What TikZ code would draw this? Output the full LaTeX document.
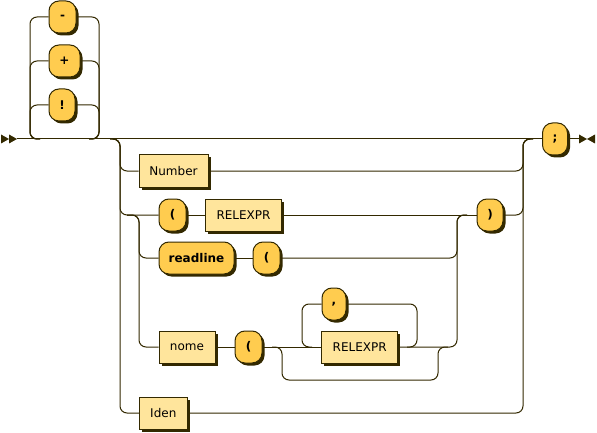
\documentclass[tikz,border=0pt]{standalone}
\usepackage{fontspec}
\setmainfont{DejaVu Sans}
\usetikzlibrary{shadows}
\definecolor{rrline}{HTML}{332900}
\definecolor{rrterm}{HTML}{FFCC4F}
\definecolor{rrnonterm}{HTML}{FFE59C}
\tikzset{
  rail/.style={draw=rrline, line width=1pt, rounded corners=7pt},
  boxshadow/.style={general shadow={fill=rrline, shadow xshift=2.5pt, shadow yshift=-2.5pt}},
  term/.style={draw=rrline, fill=rrterm, line width=1pt, rounded corners=10pt,
    minimum height=32pt, inner sep=0pt, text=black,
    font=\fontsize{12}{14}\selectfont\bfseries, boxshadow},
  nonterm/.style={draw=rrline, fill=rrnonterm, line width=1pt,
    minimum height=32pt, inner sep=0pt, text=black,
    font=\fontsize{12}{14}\selectfont, boxshadow},
  tip/.style={fill=rrline}
}
\begin{document}
\begin{tikzpicture}[x=1pt,y=-1pt]
\fill[white] (0,0) rectangle (597,433);
\useasboundingbox (0,0) rectangle (597,433);

% nodes
\node[term, minimum width=27pt] (minus) at (62.5,17) {-};
\node[term, minimum width=31pt] (plus) at (64.5,61) {+};
\node[term, minimum width=26pt] (excl) at (62,105) {!};
\node[term, minimum width=25pt] (semi) at (555,139) {;};
\node[nonterm, minimum width=69pt] (number) at (173.5,171) {Number};
\node[term, minimum width=27pt] (lp1) at (172.5,215) {(};
\node[nonterm, minimum width=76pt] (relexpr1) at (243.5,215) {RELEXPR};
\node[term, minimum width=26pt] (rp) at (490,215) {)};
\node[term, minimum width=75pt] (readline) at (196.5,258) {readline};
\node[term, minimum width=27pt] (lp2) at (266.5,258) {(};
\node[term, minimum width=24pt] (comma) at (334,304) {,};
\node[nonterm, minimum width=56pt] (nome) at (187,347) {nome};
\node[term, minimum width=27pt] (lpn) at (248.5,347) {(};
\node[nonterm, minimum width=76pt] (relexpr2) at (359.7,347) {RELEXPR};
\node[nonterm, minimum width=48pt] (iden) at (163.3,413) {Iden};

% start / end
\coordinate (start) at (17,139);
\coordinate (finish) at (579,139);
\fill[tip] (1,134.5) -- (9,139) -- (1,143.5) -- cycle;
\fill[tip] (9,134.5) -- (17,139) -- (9,143.5) -- cycle;
\fill[tip] (579,134.5) -- (587,139) -- (579,143.5) -- cycle;
\fill[tip] (595,134.5) -- (587,139) -- (595,143.5) -- cycle;
\draw[rail] (start) -- (semi.west);
\draw[rail] (semi.east) -- (finish);

% optional prefix choice
\coordinate (tcL) at (30,139);
\coordinate (tcR) at (99,139);
\draw[rail] (minus.west) -| (tcL) -- ([xshift=10pt]tcL);
\draw[rail] (plus.west) -| (tcL) -- ([xshift=10pt]tcL);
\draw[rail] (excl.west) -| (tcL) -- ([xshift=10pt]tcL);
\draw[rail] (minus.east) -| (tcR) -- ([xshift=-10pt]tcR);
\draw[rail] (plus.east) -| (tcR) -- ([xshift=-10pt]tcR);
\draw[rail] (excl.east) -| (tcR) -- ([xshift=-10pt]tcR);

% outer choice
\coordinate (ocL) at (120,139);
\coordinate (ocR) at (523,139);
\draw[rail] ([xshift=-10pt]ocL) -- (ocL) |- (number.west);
\draw[rail] ([xshift=-10pt]ocL) -- (ocL) |- (lp1.west);
\draw[rail] ([xshift=-10pt]ocL) -- (ocL) |- (iden.west);
\draw[rail] (number.east) -| (ocR) -- ([xshift=10pt]ocR);
\draw[rail] (rp.east) -| (ocR) -- ([xshift=10pt]ocR);
\draw[rail] (iden.east) -| (ocR) -- ([xshift=10pt]ocR);

% inner choice
\coordinate (icL) at (139,215);
\coordinate (icR) at (457,215);
\draw[rail] ([xshift=-12pt]icL) -- (icL) |- (readline.west);
\draw[rail] ([xshift=-12pt]icL) -- (icL) |- (nome.west);
\draw[rail] (lp1.east) -- (relexpr1.west);
\draw[rail] (relexpr1.east) -- (rp.west);
\draw[rail] (readline.east) -- (lp2.west);
\draw[rail] (lp2.east) -| (icR) -- ([xshift=10pt]icR);
\draw[rail] (nome.east) -- (lpn.west);
\draw[rail] (lpn.east) -- (relexpr2.west);
\draw[rail] (relexpr2.east) -| (icR) -- ([xshift=10pt]icR);

% repetition loop
\coordinate (lpL) at (302,347);
\coordinate (lpR) at (417,347);
\draw[rail] ([xshift=-10pt]lpR) -- (lpR) |- (comma.east);
\draw[rail] (comma.west) -| (lpL) -- ([xshift=10pt]lpL);

% optional bypass
\coordinate (bpL) at (282,347);
\coordinate (bpR) at (438,347);
\draw[rail] ([xshift=-10pt]bpL) -- (bpL) -- ++(0,33) -| (bpR) -- ([xshift=10pt]bpR);
\end{tikzpicture}
\end{document}
